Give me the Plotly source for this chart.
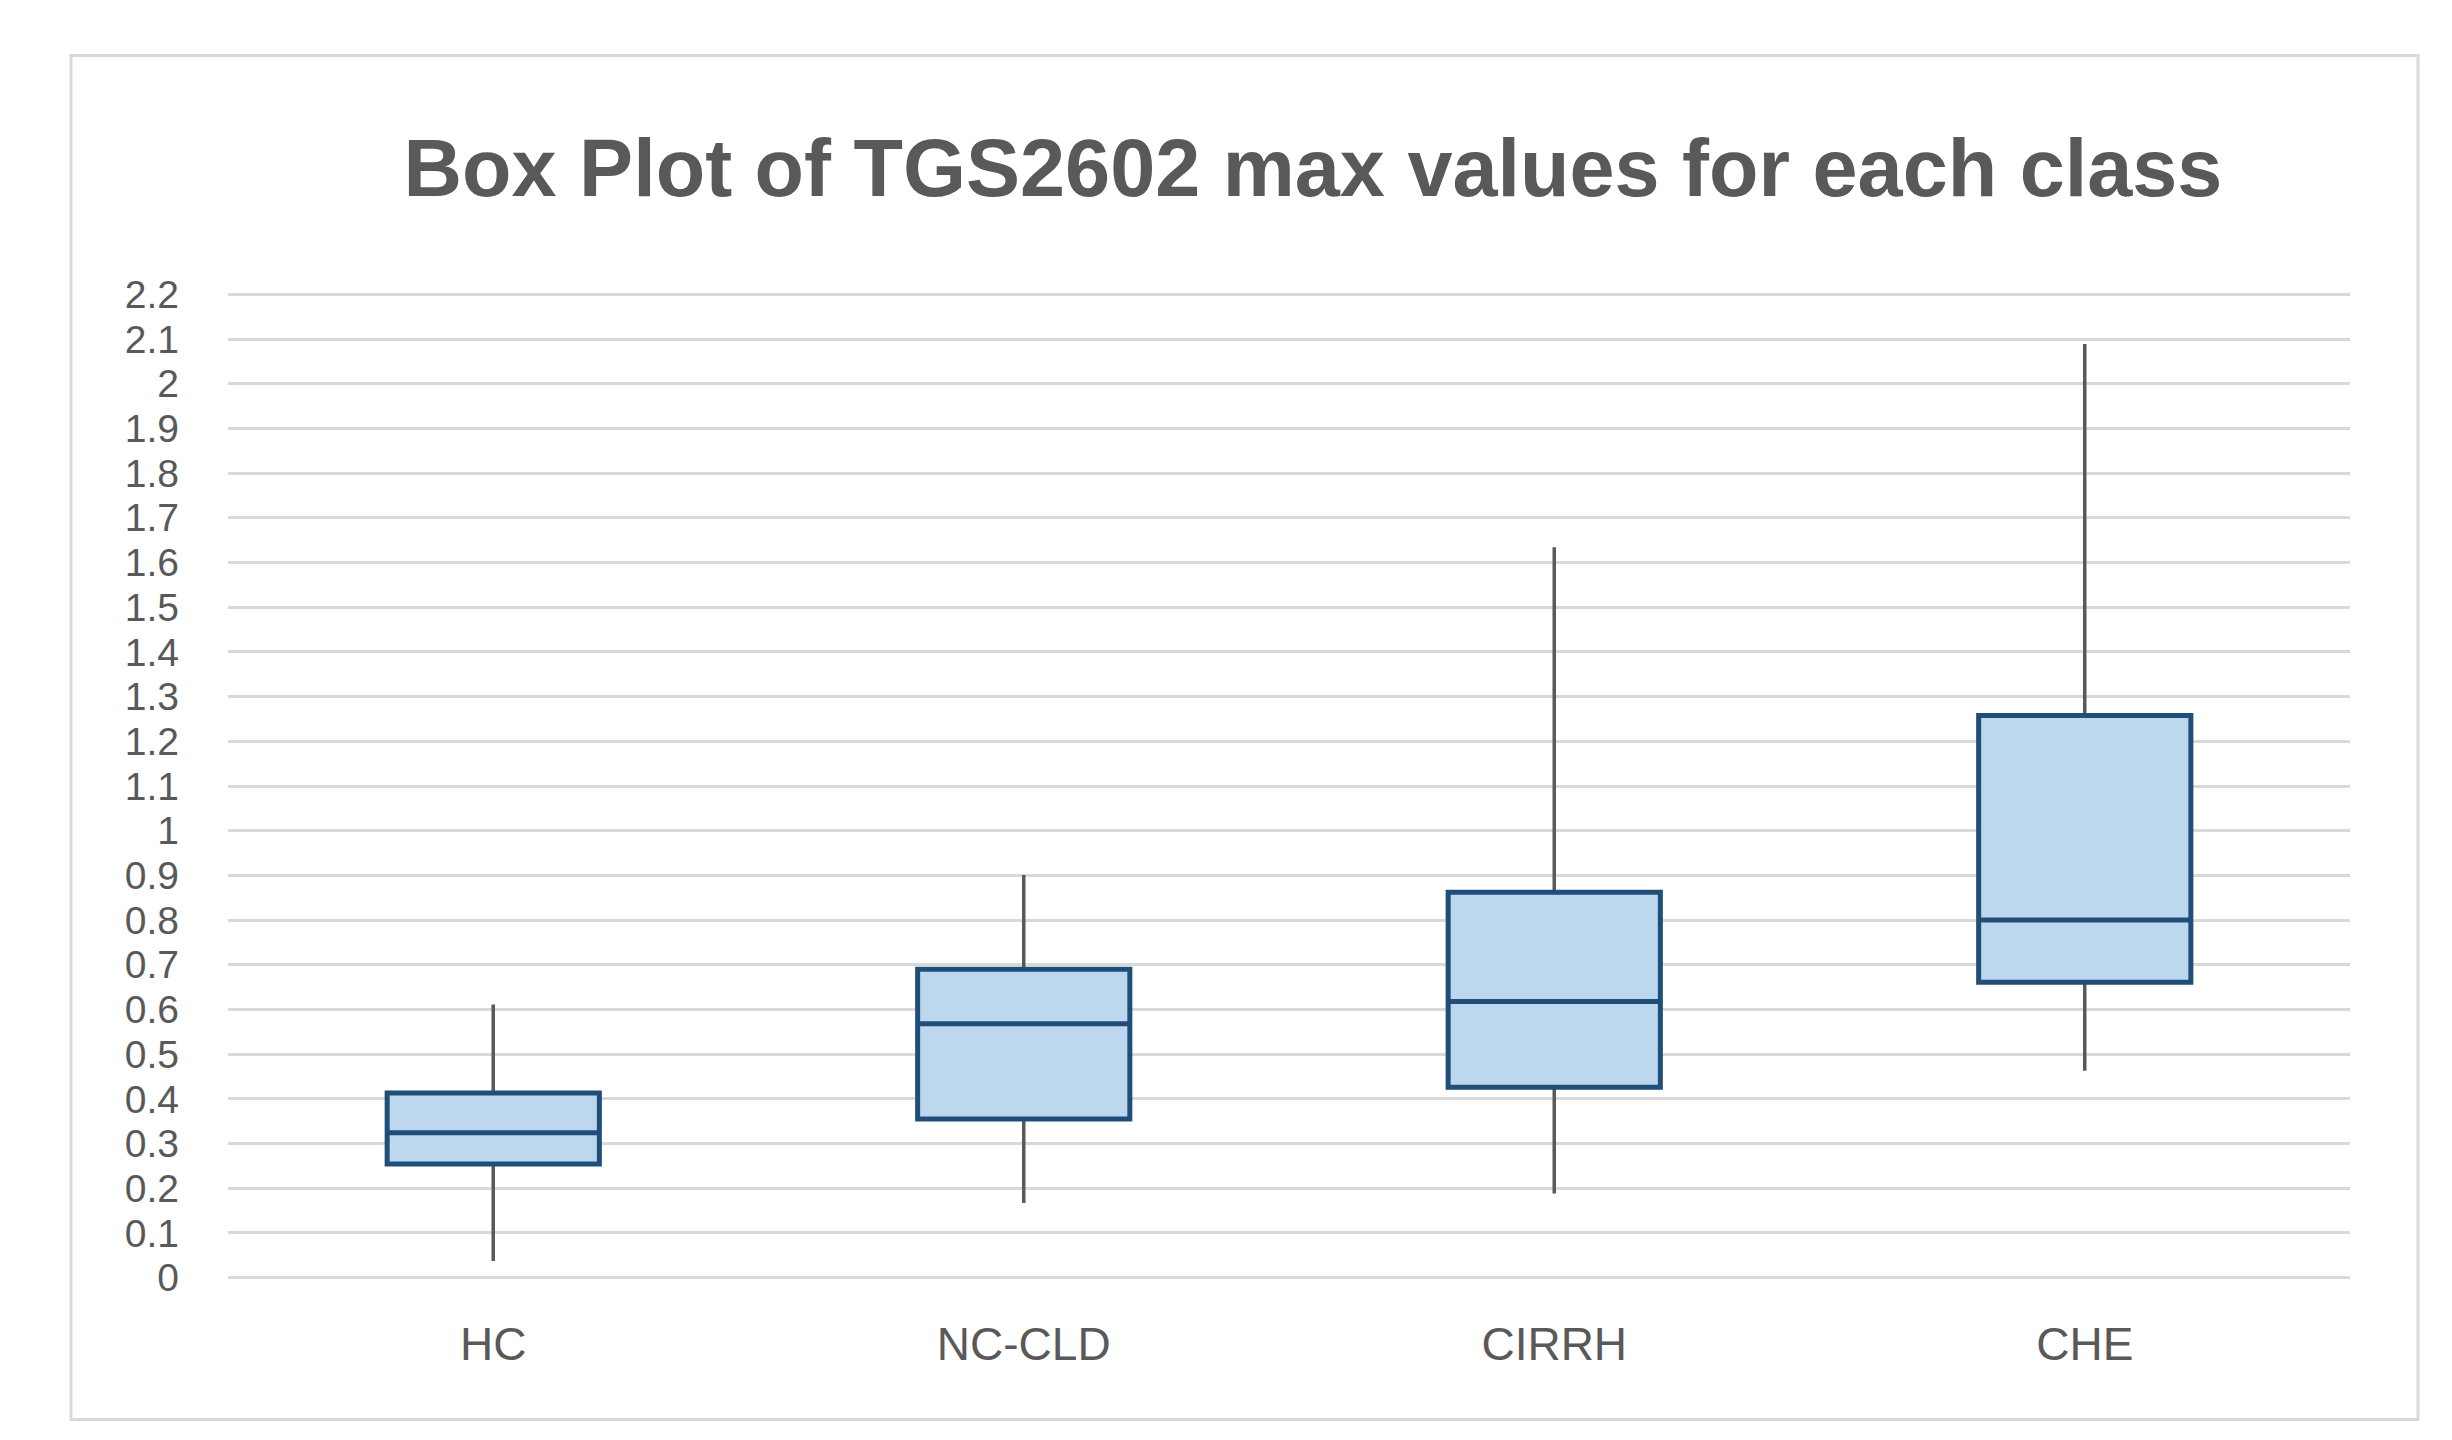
import plotly.graph_objects as go

# ---- data ----
categories = ["HC", "NC-CLD", "CIRRH", "CHE"]
lower_whisker = [0.037, 0.167, 0.188, 0.463]
q1_values = [0.254, 0.355, 0.426, 0.661]
median_values = [0.324, 0.568, 0.618, 0.800]
q3_values = [0.413, 0.690, 0.862, 1.258]
upper_whisker = [0.611, 0.901, 1.634, 2.089]

y_tick_values = [round(i * 0.1, 1) for i in range(23)]
y_tick_labels = ["0", "0.1", "0.2", "0.3", "0.4", "0.5", "0.6", "0.7", "0.8", "0.9",
                 "1", "1.1", "1.2", "1.3", "1.4", "1.5", "1.6", "1.7", "1.8", "1.9",
                 "2", "2.1", "2.2"]

title_text = "Box Plot of TGS2602 max values for each class"

# ---- layout geometry (pixels) ----
W, H = 2452, 1440
Y_MIN, Y_MAX = -0.012, 2.212
GRID_LEFT, GRID_RIGHT = 220, 2342
Y0_PX, Y22_PX = 1270, 286           # pixel rows of value 0 and 2.2
unit = (Y0_PX - Y22_PX) / 2.2
PL, PR = GRID_LEFT, GRID_RIGHT
PT = Y22_PX - (Y_MAX - 2.2) * unit
PB = Y0_PX + (0 - Y_MIN) * unit
pw, ph = PR - PL, PB - PT

BOX_LINE = "#1F4E79"
BOX_FILL = "#BDD7EE"
WHISKER = "#595959"
GRID = "#D9D9D9"
TEXT = "#595959"
FONT = "Liberation Sans"

fig = go.Figure()

# whiskers (gray)
fig.add_trace(go.Box(
    x=categories, q1=q1_values, median=median_values, q3=q3_values,
    lowerfence=lower_whisker, upperfence=upper_whisker,
    width=0.4, whiskerwidth=0,
    line=dict(color=WHISKER, width=3.5),
    fillcolor="rgba(0,0,0,0)",
    boxpoints=False, hoverinfo="skip", showlegend=False,
))
# boxes (blue)
fig.add_trace(go.Box(
    x=categories, q1=q1_values, median=median_values, q3=q3_values,
    lowerfence=q1_values, upperfence=q3_values,
    width=0.4, whiskerwidth=0,
    line=dict(color=BOX_LINE, width=5),
    fillcolor=BOX_FILL,
    boxpoints=False, hoverinfo="skip", showlegend=False,
))

def px_to_paper_x(px):
    return (px - PL) / pw

def px_to_paper_y(py):
    return (PB - py) / ph

fig.update_layout(
    width=W, height=H,
    margin=dict(l=PL, r=W - PR, t=PT, b=H - PB, pad=0),
    paper_bgcolor="white", plot_bgcolor="white",
    boxmode="overlay",
    showlegend=False,
    title=dict(
        text=title_text,
        x=px_to_paper_x(1305), xref="paper", xanchor="center",
        y=1 - 160 / H, yref="container", yanchor="middle",
        font=dict(family=FONT, size=81, color=TEXT, weight="bold"),
    ),
    xaxis=dict(
        type="category", range=[-0.5, 3.5],
        showgrid=False, showline=False, zeroline=False, ticks="",
        tickfont=dict(family=FONT, size=46, color=TEXT),
        ticklabelstandoff=30,
    ),
    yaxis=dict(
        range=[Y_MIN, Y_MAX],
        tickvals=y_tick_values, ticktext=y_tick_labels,
        showgrid=True, gridcolor=GRID, gridwidth=3.3,
        zeroline=False, showline=False, ticks="",
        tickfont=dict(family=FONT, size=39, color=TEXT),
        ticklabelstandoff=48,
    ),
    shapes=[dict(
        type="rect", xref="paper", yref="paper",
        x0=px_to_paper_x(63), x1=px_to_paper_x(2410),
        y0=px_to_paper_y(1412), y1=px_to_paper_y(47),
        line=dict(color=GRID, width=3), fillcolor="rgba(0,0,0,0)",
        layer="below",
    )],
)

fig.write_html("out.html")
